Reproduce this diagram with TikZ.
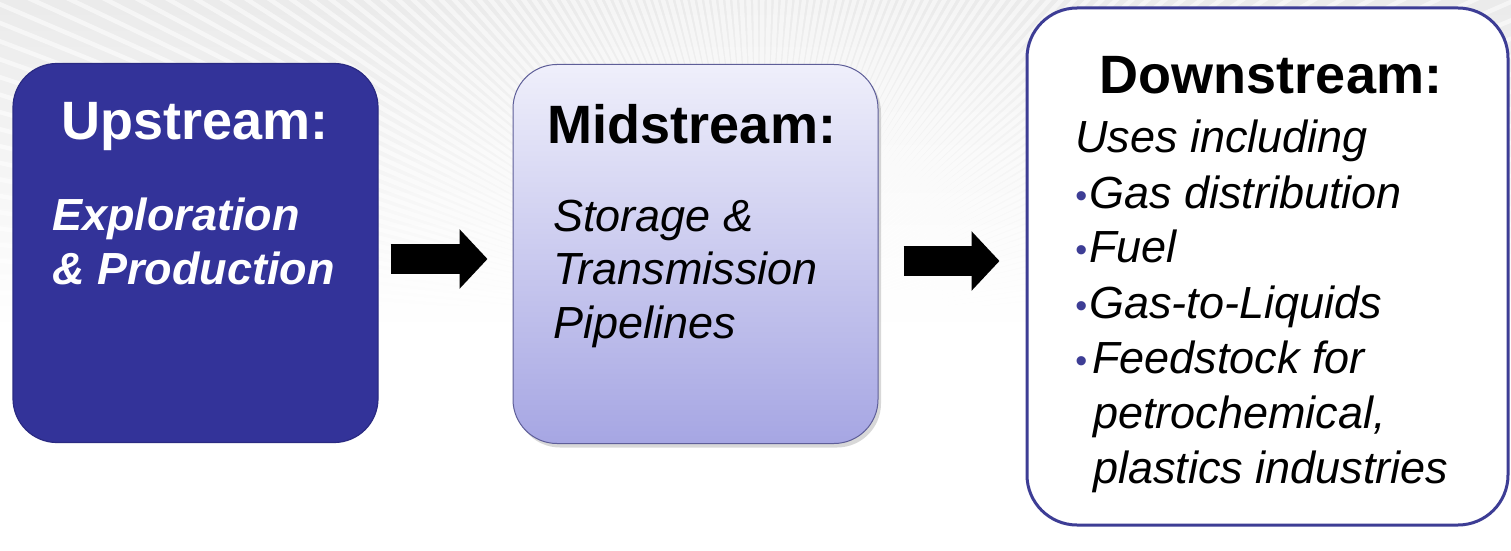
\documentclass[tikz,border=0pt]{standalone}
\usepackage{fontspec}
\setmainfont{Liberation Sans}
\usetikzlibrary{arrows.meta,shadows}

\definecolor{upblue}{HTML}{333399}
\definecolor{upedge}{HTML}{2A2A82}
\definecolor{midtop}{HTML}{EFEFFB}
\definecolor{midbot}{HTML}{A6A6E3}
\definecolor{midedge}{HTML}{5E5E98}
\definecolor{downedge}{HTML}{3D3D95}
\definecolor{bullblue}{HTML}{3D3D95}

\newcommand{\bul}{{\upshape\color{bullblue}\fontsize{17}{17}\selectfont\raisebox{0.5pt}{\textbullet}}}

\tikzset{
  stagebox/.style={rounded corners=22pt, minimum width=182.5pt, minimum height=189.5pt, inner sep=0pt},
  headtext/.style={font=\fontsize{27}{32}\selectfont\bfseries, anchor=base, inner sep=0pt},
  bodytext/.style={font=\fontsize{22.5}{27}\selectfont\itshape, anchor=base west, inner sep=0pt},
  flowarrow/.style={line width=15pt, -{Triangle[length=14pt,width=29pt]}, black}
}

\begin{document}
\begin{tikzpicture}[x=0.5pt,y=-0.5pt]
			%%%%% BACKGROUND %%%%%
			\path[use as bounding box] (0,0) rectangle (1511,551);
			\fill[white] (0,0) rectangle (1511,551);
			\shade[top color=black!8, bottom color=white] (0,0) rectangle (1511,330);
			\begin{scope}
				\clip (0,0) rectangle (1511,330);
				\foreach \a in {2,3.2,...,178}
					\draw[white, line width=2.2pt, opacity=0.55] (760,330) -- ++(\a:900pt);
			\end{scope}
			
			%%%%% BOXES %%%%%
			\node[stagebox, fill=upblue, draw=upedge, line width=0.6pt] (up) at (195.5,253) {};
			\node[stagebox, top color=midtop, bottom color=midbot, draw=midedge, line width=0.5pt,
				drop shadow={shadow xshift=1.5pt, shadow yshift=-2pt, opacity=0.3}] (mid) at (695.5,254) {};
			\node[rounded corners=25pt, minimum width=240.5pt, minimum height=258.5pt, inner sep=0pt,
				fill=white, draw=downedge, line width=1.5pt] (down) at (1267.5,266.5) {};
			
			%%%%% ARROWS %%%%%
			\draw[flowarrow, shorten <=6pt, shorten >=12.5pt] ([yshift=-3pt]up.east) -- ([yshift=-3pt]up.east -| mid.west);
			\draw[flowarrow, shorten <=12.5pt, shorten >=13pt] ([yshift=-3.5pt]mid.east) -- ([yshift=-3.5pt]mid.east -| down.west);
			
			%%%%% TEXT %%%%%
			\node[headtext, white] (uphead) at (195,140) {Upstream:};
			\node[bodytext, white, font=\fontsize{22.5}{27}\selectfont\bfseries\itshape] (upline1) at (52,230) {Exploration};
			\node[bodytext, white, font=\fontsize{22.5}{27}\selectfont\bfseries\itshape] (upline2) at (52,284) {\& Production};
			
			\node[headtext] (midhead) at (692,144) {Midstream:};
			\node[bodytext] (midline1) at (553,231) {Storage \&};
			\node[bodytext] (midline2) at (553,284) {Transmission};
			\node[bodytext] (midline3) at (553,338) {Pipelines};
			
			\node[headtext] (downhead) at (1271,94) {Downstream:};
			\node[bodytext] (downline1) at (1075,153) {Uses including};
			\node[bodytext] (downline2) at (1075,208) {\bul\hspace{1pt}Gas distribution};
			\node[bodytext] (downline3) at (1075,263) {\bul\hspace{1pt}Fuel};
			\node[bodytext] (downline4) at (1075,318) {\bul\hspace{1pt}Gas-to-Liquids};
			\node[bodytext] (downline5) at (1075,373) {\bul\hspace{2.5pt}Feedstock for};
			\node[bodytext] (downline6) at (1093,428) {petrochemical,};
			\node[bodytext] (downline7) at (1093,483) {plastics industries};
\end{tikzpicture}
\end{document}
